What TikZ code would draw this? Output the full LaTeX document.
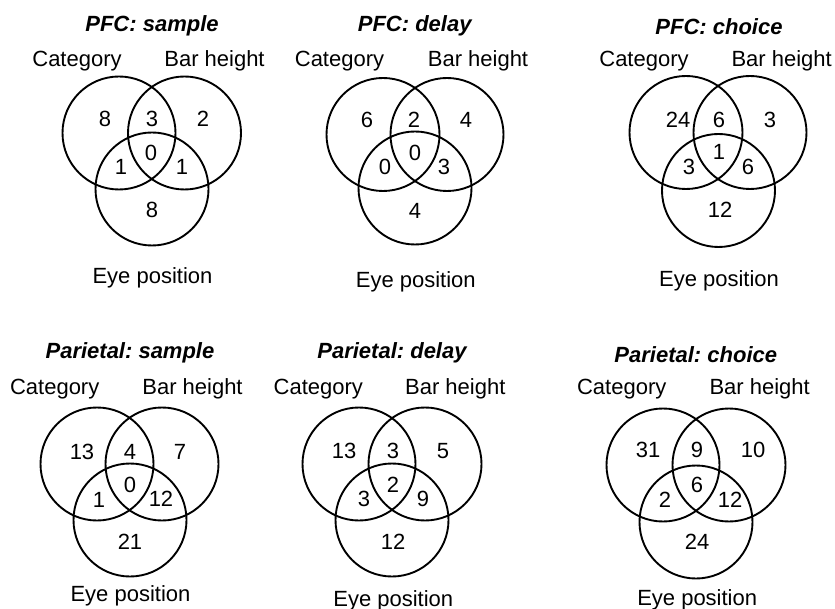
\documentclass[tikz,border=0pt]{standalone}
\usepackage{fontspec}
\setmainfont{Liberation Sans}
\frenchspacing
\begin{document}
\begin{tikzpicture}[x=1pt,y=-1pt,
  ring/.style={line width=1.9pt},
  lbl/.style={font=\fontsize{22}{26}\selectfont,inner sep=0pt,anchor=base},
  ttl/.style={font=\fontsize{22}{26}\selectfont\bfseries\itshape,inner sep=0pt,anchor=base},
  num/.style={font=\fontsize{22}{26}\selectfont,inner sep=0pt}]
\useasboundingbox (0,0) rectangle (835,609);

\draw[ring] (119,133) circle (56.5pt);
\draw[ring] (184.5,133) circle (56.5pt);
\draw[ring] (152,189) circle (56.5pt);
\node[ttl] (ps-title) at (152,31.7) {PFC: sample};
\node[lbl] (ps-cat) at (77,66.7) {Category};
\node[lbl] (ps-bar) at (214.5,66.7) {Bar height};
\node[lbl] (ps-eye) at (152.5,284) {Eye position};
\node[num] (ps-c) at (105,119) {8};
\node[num] (ps-cb) at (152,119) {3};
\node[num] (ps-b) at (203,119) {2};
\node[num] (ps-ce) at (121,167) {1};
\node[num] (ps-all) at (151,153) {0};
\node[num] (ps-be) at (182,167) {1};
\node[num] (ps-e) at (152,210) {8};

\draw[ring] (383,134.5) circle (56.5pt);
\draw[ring] (447,134.5) circle (56.5pt);
\draw[ring] (415,188) circle (56.5pt);
\node[ttl] (pd-title) at (414.7,31.7) {PFC: delay};
\node[lbl] (pd-cat) at (339.5,66.7) {Category};
\node[lbl] (pd-bar) at (478,66.7) {Bar height};
\node[lbl] (pd-eye) at (415.8,288) {Eye position};
\node[num] (pd-c) at (367,120) {6};
\node[num] (pd-cb) at (414,120) {2};
\node[num] (pd-b) at (466,120) {4};
\node[num] (pd-ce) at (385,167) {0};
\node[num] (pd-all) at (415,153) {0};
\node[num] (pd-be) at (444,167) {3};
\node[num] (pd-e) at (415,211) {4};

\draw[ring] (686,132.5) circle (56.5pt);
\draw[ring] (750,132.5) circle (56.5pt);
\draw[ring] (718.5,190.5) circle (56.5pt);
\node[ttl] (pc-title) at (719,35) {PFC: choice};
\node[lbl] (pc-cat) at (644,66.7) {Category};
\node[lbl] (pc-bar) at (781.7,66.7) {Bar height};
\node[lbl] (pc-eye) at (719,286.7) {Eye position};
\node[num] (pc-c) at (678,120) {24};
\node[num] (pc-cb) at (719,120) {6};
\node[num] (pc-b) at (770,120) {3};
\node[num] (pc-ce) at (689,167) {3};
\node[num] (pc-all) at (719,152) {1};
\node[num] (pc-be) at (748,167) {6};
\node[num] (pc-e) at (720,210) {12};

\draw[ring] (97,464) circle (56.5pt);
\draw[ring] (162,464) circle (56.5pt);
\draw[ring] (130,520) circle (56.5pt);
\node[ttl] (rs-title) at (130,358.3) {Parietal: sample};
\node[lbl] (rs-cat) at (54.7,394.3) {Category};
\node[lbl] (rs-bar) at (192.5,394.3) {Bar height};
\node[lbl] (rs-eye) at (130.5,601.7) {Eye position};
\node[num] (rs-c) at (82,452) {13};
\node[num] (rs-cb) at (130,452) {4};
\node[num] (rs-b) at (180,452) {7};
\node[num] (rs-ce) at (99,500) {1};
\node[num] (rs-all) at (130,485) {0};
\node[num] (rs-be) at (161,499) {12};
\node[num] (rs-e) at (130,542) {21};

\draw[ring] (359,464) circle (56.5pt);
\draw[ring] (425,464) circle (56.5pt);
\draw[ring] (392,520) circle (56.5pt);
\node[ttl] (rd-title) at (392,358.3) {Parietal: delay};
\node[lbl] (rd-cat) at (318.3,394.3) {Category};
\node[lbl] (rd-bar) at (455.3,394.3) {Bar height};
\node[lbl] (rd-eye) at (393.3,606) {Eye position};
\node[num] (rd-c) at (344,451) {13};
\node[num] (rd-cb) at (393,451) {3};
\node[num] (rd-b) at (443,451) {5};
\node[num] (rd-ce) at (364,499) {3};
\node[num] (rd-all) at (393,485) {2};
\node[num] (rd-be) at (423,499) {9};
\node[num] (rd-e) at (393,542) {12};

\draw[ring] (663,465) circle (56.5pt);
\draw[ring] (729,465) circle (56.5pt);
\draw[ring] (696,522) circle (56.5pt);
\node[ttl] (rc-title) at (695.8,362.7) {Parietal: choice};
\node[lbl] (rc-cat) at (621.7,394.3) {Category};
\node[lbl] (rc-bar) at (759.7,394.3) {Bar height};
\node[lbl] (rc-eye) at (697.2,605) {Eye position};
\node[num] (rc-c) at (648,450) {31};
\node[num] (rc-cb) at (697,450) {9};
\node[num] (rc-b) at (753,450) {10};
\node[num] (rc-ce) at (665,500) {2};
\node[num] (rc-all) at (697,485) {6};
\node[num] (rc-be) at (730,500) {12};
\node[num] (rc-e) at (697,542) {24};
\end{tikzpicture}
\end{document}
